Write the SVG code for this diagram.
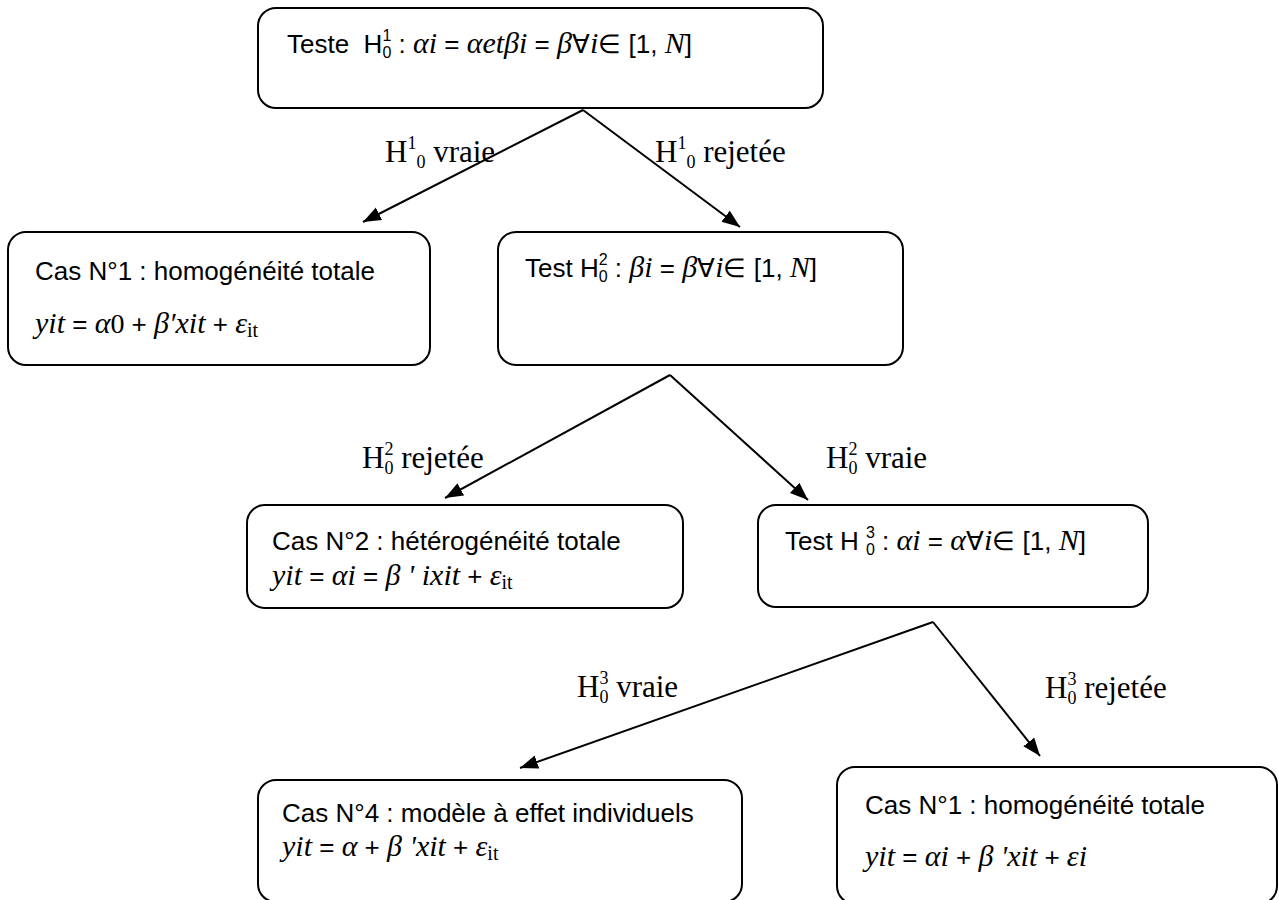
<svg xmlns="http://www.w3.org/2000/svg" width="1279" height="900" viewBox="0 0 1279 900">
<defs>
<style>
.box{fill:#fff;stroke:#000;stroke-width:2}
.b{font-family:"Liberation Sans",Arial,sans-serif;font-size:26px;fill:#000;white-space:pre}
.m{font-family:"Liberation Serif","DejaVu Serif",serif;font-style:italic;font-size:30px}
.u{font-family:"Liberation Serif","DejaVu Serif",serif;font-size:28px}
.it{font-family:"Liberation Serif",serif;font-size:20px}
.sp{font-size:16px}
.l{font-family:"Liberation Serif","Times New Roman",serif;font-size:31px;fill:#000;white-space:pre}
.ls{font-size:18px}
.c{fill:none;stroke:#000;stroke-width:2;marker-end:url(#ah)}
</style>
<marker id="ah" markerUnits="userSpaceOnUse" markerWidth="20" markerHeight="16" refX="18" refY="7" orient="auto">
<path d="M0,0 L18,7 L0,14 Z" fill="#000"/>
</marker>
</defs>
<rect width="1279" height="900" fill="#fff"/>
<g id="connectors">
<line class="c" x1="583" y1="110" x2="363" y2="222"/>
<line class="c" x1="583" y1="110" x2="740" y2="227"/>
<line class="c" x1="670" y1="375" x2="445" y2="498"/>
<line class="c" x1="670" y1="375" x2="808" y2="500"/>
<line class="c" x1="933" y1="622" x2="520" y2="768"/>
<line class="c" x1="933" y1="622" x2="1040" y2="756"/>
</g>
<g id="labels">
<text class="l" x="385" y="162">H<tspan class="ls" dy="-13">1</tspan><tspan class="ls" dy="19">0</tspan><tspan dy="-6"> vraie</tspan></text>
<text class="l" x="655" y="162">H<tspan class="ls" dy="-13">1</tspan><tspan class="ls" dy="19">0</tspan><tspan dy="-6"> rejetée</tspan></text>
<text class="l" x="362" y="468">H<tspan class="ls" dy="-13">2</tspan><tspan class="ls" dx="-9" dy="19">0</tspan><tspan dy="-6"> rejetée</tspan></text>
<text class="l" x="826" y="468">H<tspan class="ls" dy="-13">2</tspan><tspan class="ls" dx="-9" dy="19">0</tspan><tspan dy="-6"> vraie</tspan></text>
<text class="l" x="577" y="697">H<tspan class="ls" dy="-13">3</tspan><tspan class="ls" dx="-9" dy="19">0</tspan><tspan dy="-6"> vraie</tspan></text>
<text class="l" x="1045" y="698">H<tspan class="ls" dy="-13">3</tspan><tspan class="ls" dx="-9" dy="19">0</tspan><tspan dy="-6"> rejetée</tspan></text>
</g>
<g id="n1">
<rect class="box" x="258" y="8" width="565" height="100" rx="18"/>
<text class="b" x="287" y="53">Teste  H<tspan class="sp" dy="-12">1</tspan><tspan class="sp" dx="-8.9" dy="17">0</tspan><tspan dy="-5"> : </tspan><tspan class="m">αi</tspan> = <tspan class="m">αetβi</tspan> = <tspan class="m">β</tspan>∀<tspan class="m">i</tspan>∈ [1, <tspan class="m">N</tspan>]</text>
</g>
<g id="n2">
<rect class="box" x="8" y="232" width="422" height="133" rx="18"/>
<text class="b" x="35" y="280">Cas N°1 : homogénéité totale</text>
<text class="b" x="35" y="333"><tspan class="m">yit</tspan> = <tspan class="m">α</tspan><tspan class="u">0</tspan> + <tspan class="m">β′xit</tspan> + <tspan class="m">ε</tspan><tspan class="it" dy="4">it</tspan></text>
</g>
<g id="n3">
<rect class="box" x="498" y="232" width="405" height="133" rx="18"/>
<text class="b" x="525" y="277">Test H<tspan class="sp" dy="-12">2</tspan><tspan class="sp" dx="-8.9" dy="17">0</tspan><tspan dy="-5"> : </tspan><tspan class="m">βi</tspan> = <tspan class="m">β</tspan>∀<tspan class="m">i</tspan>∈ [1, <tspan class="m">N</tspan>]</text>
</g>
<g id="n4">
<rect class="box" x="247" y="505" width="436" height="103" rx="18"/>
<text class="b" x="272" y="550">Cas N°2 : hétérogénéité totale</text>
<text class="b" x="272" y="585"><tspan class="m">yit</tspan> = <tspan class="m">αi</tspan> = <tspan class="m">β ' ixit</tspan> + <tspan class="m">ε</tspan><tspan class="it" dy="4">it</tspan></text>
</g>
<g id="n5">
<rect class="box" x="758" y="505" width="390" height="102" rx="18"/>
<text class="b" x="785" y="550">Test H <tspan class="sp" dy="-12">3</tspan><tspan class="sp" dx="-8.9" dy="17">0</tspan><tspan dy="-5"> : </tspan><tspan class="m">αi</tspan> = <tspan class="m">α</tspan>∀<tspan class="m">i</tspan>∈ [1, <tspan class="m">N</tspan>]</text>
</g>
<g id="n6">
<rect class="box" x="258" y="780" width="484" height="122" rx="18"/>
<text class="b" x="282" y="822">Cas N°4 : modèle à effet individuels</text>
<text class="b" x="282" y="856"><tspan class="m">yit</tspan> = <tspan class="m">α</tspan> + <tspan class="m">β 'xit</tspan> + <tspan class="m">ε</tspan><tspan class="it" dy="4">it</tspan></text>
</g>
<g id="n7">
<rect class="box" x="837" y="767" width="440" height="137" rx="18"/>
<text class="b" x="865" y="814">Cas N°1 : homogénéité totale</text>
<text class="b" x="865" y="866"><tspan class="m">yit</tspan> = <tspan class="m">αi</tspan> + <tspan class="m">β 'xit</tspan> + <tspan class="m">εi</tspan></text>
</g>
</svg>
